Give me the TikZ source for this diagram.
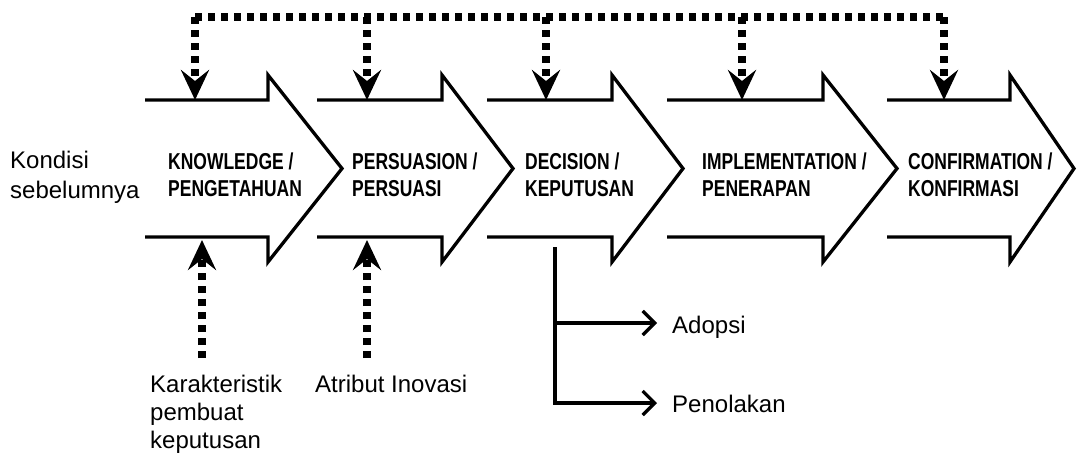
\documentclass[tikz,border=0pt]{standalone}
\usepackage{fontspec}
\setmainfont{Liberation Sans}
\newfontfamily\narrowfont{Liberation Sans}[FakeStretch=0.76]
\usetikzlibrary{arrows.meta}

\begin{document}
\begin{tikzpicture}[x=1pt,y=-1pt,
    chev/.style={draw=black,line width=3.3pt,line join=miter},
    dotline/.style={line width=7.5pt,dash pattern=on 7pt off 6pt},
    dotarr/.style={dotline,-{Stealth[length=30pt,width=28pt,inset=11pt]}},
    branch/.style={line width=3.3pt,-{Straight Barb[length=12pt,width=24pt]}},
    stage/.style={anchor=base west,inner sep=0pt,align=left,font=\fontsize{23}{27}\selectfont\narrowfont\bfseries},
    txt/.style={anchor=base west,inner sep=0pt,align=left,font=\fontsize{24}{28}\selectfont}]

    \useasboundingbox (0,0) rectangle (1078,459);

    %le frecce delle fasi
    \foreach \l/\n/\t in {145/268/342,317/442/513,487/612/683,667/823/897,887/1010/1074}
        \draw[chev] (\l,100) -- (\n,100) -- (\n,75) -- (\t,168.5) -- (\n,262) -- (\n,237) -- (\l,237);

    %base = ultima riga
    \node[stage] (know) at (168,196) {KNOWLEDGE /\\PENGETAHUAN};
    \node[stage] (pers) at (352,196) {PERSUASION /\\PERSUASI};
    \node[stage] (deci) at (525,196) {DECISION /\\KEPUTUSAN};
    \node[stage] (impl) at (702,196) {IMPLEMENTATION /\\PENERAPAN};
    \node[stage] (conf) at (908,196) {CONFIRMATION /\\KONFIRMASI};

    \node[txt,font=\fontsize{24}{30}\selectfont] (kondisi) at (10,198) {Kondisi\\sebelumnya};
    \node[txt] (kar) at (150,448) {Karakteristik\\pembuat\\keputusan};
    \node[txt] (atr) at (315,392) {Atribut Inovasi};
    \node[txt] (adopsi) at (672,333) {Adopsi};
    \node[txt] (penol) at (672,412) {Penolakan};

    %linea tratteggiata in alto
    \coordinate (t1) at (195,17);
    \coordinate (t2) at (367,17);
    \coordinate (t3) at (546,17);
    \coordinate (t4) at (742,17);
    \coordinate (t5) at (944,17);
    \coordinate (i1) at (195,100);
    \coordinate (i2) at (367,100);
    \coordinate (i3) at (546,100);
    \coordinate (i4) at (742,100);
    \coordinate (i5) at (944,100);
    \draw[dotline] (t1) -- (t5);
    \foreach \i in {1,...,5}
        \draw[dotarr] (t\i) -- (i\i);

    %frecce dal basso
    \coordinate (b1) at (202,358);
    \coordinate (b2) at (367,358);
    \coordinate (o1) at (202,240);
    \coordinate (o2) at (367,240);
    \draw[dotarr] (b1) -- (o1);
    \draw[dotarr] (b2) -- (o2);

    %adozione o rifiuto
    \coordinate (dec) at (555,247);
    \coordinate (ad) at (657,323);
    \coordinate (pe) at (657,403);
    \draw[branch] (dec |- ad) -- (ad);
    \draw[branch] (dec) |- (pe);
\end{tikzpicture}
\end{document}
